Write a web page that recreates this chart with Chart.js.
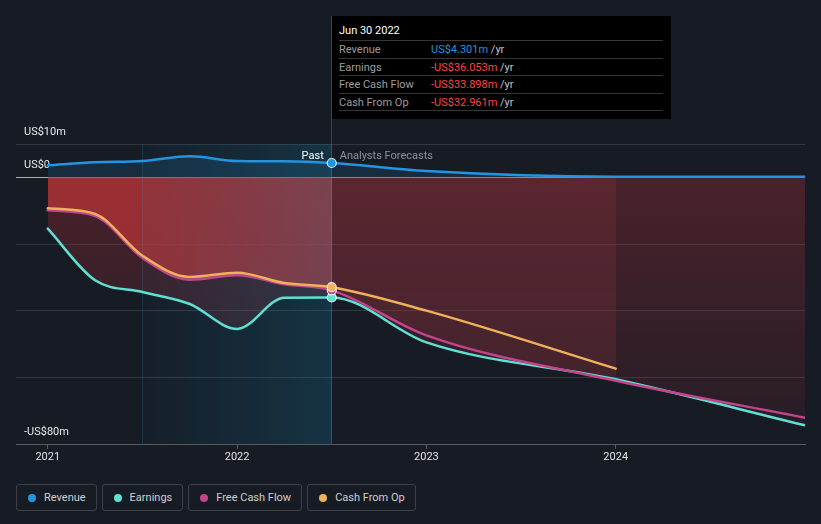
<!DOCTYPE html>
<html lang="en">
<head>
  <meta charset="UTF-8">
  <title>Revenue, Earnings and Cash Flow</title>
  <script src="https://cdn.jsdelivr.net/npm/chart.js"></script>
  <style>
    body { margin: 0; background: #161b24; font-family: Roboto, Arial, sans-serif; font-size: 11px; color: #d0d0d0; }
    #wrap { position: absolute; left: 0; top: 0; width: 821px; height: 470px; }
    .tip { position: absolute; left: 332px; top: 16px; width: 339px; height: 103px; background: #000; padding: 0 8px 0 7px; box-sizing: border-box; }
    .tip .title { color: #fff; height: 25px; line-height: 20px; padding-top: 5px; box-sizing: border-box; border-bottom: 1px solid #363636; }
    .tip .row { display: flex; height: 17.5px; line-height: 17px; box-sizing: border-box; border-bottom: 1px solid #363636; }
    .tip .lbl { width: 92px; color: #9c9c9c; }
    .tip .pos { color: #2394df; }
    .tip .neg { color: #ff4343; }
    .tip .unit { color: #c4c4c4; }
    .legend { position: absolute; left: 16px; top: 484px; display: flex; gap: 5px; }
    .legend .item { display: flex; align-items: center; height: 27px; box-sizing: border-box; border: 1px solid #3b4049; border-radius: 3px; padding: 0 10px 0 11px; color: #cfcfcf; }
    .legend .dot { width: 8px; height: 8px; border-radius: 50%; margin-right: 8px; }
  </style>
</head>
<body>

  <div id="wrap"><canvas id="chart"></canvas></div>
  <div class="tip" id="tip"></div>
  <div class="legend" id="legend"></div>

  <script>
    // data (US$ millions), past is quarterly, forecasts are yearly
    const pastYears = [2021, 2021.25, 2021.5, 2021.75, 2022, 2022.25, 2022.5];
    const forecastYears = [2023, 2024, 2025];
    const revenue = [3.6, 4.5, 4.9, 6.3, 4.9, 4.8, 4.301, 1.9, 0.2, 0.2];
    const earnings = [-15.4, -30.9, -34.4, -38.0, -45.5, -36.1, -36.053, -49.5, -60.6, -74.4];
    const freeCashFlow = [-9.9, -11.6, -24.2, -30.7, -29.4, -32.1, -33.898, -47.4, -61.0, -72.1];
    const cashFromOp = [-9.3, -11.0, -23.5, -29.9, -28.6, -31.7, -32.961, -40.0, -57.4];

    const seriesNames = ['Revenue', 'Earnings', 'Free Cash Flow', 'Cash From Op'];
    const seriesColors = ['#2394df', '#5fe0d2', '#c2448c', '#efb15b'];
    const yTickValues = [-80, -60, -40, -20, 0, 10];
    const yTickLabels = { '10': 'US$10m', '0': 'US$0', '-80': '-US$80m' };
    const xTickValues = [2021, 2022, 2023, 2024];
    const xMin = 2020.832, xMax = 2025;
    const highlightStart = 2021.5;
    const pastEnd = 2022.5;
    const tipTitle = 'Jun 30 2022';

    const allYears = pastYears.concat(forecastYears);
    const toPoints = vals => vals.map((v, i) => ({ x: allYears[i], y: v }));
    const seriesValues = [revenue, earnings, freeCashFlow, cashFromOp];

    function fmt(v) {
      return (v < 0 ? '-' : '') + 'US$' + Math.abs(v).toFixed(3) + 'm';
    }

    // tooltip box and legend from the same arrays
    const tip = document.getElementById('tip');
    const idx = pastYears.length - 1;
    tip.innerHTML = '<div class="title">' + tipTitle + '</div>' + seriesNames.map((n, i) => {
      const v = seriesValues[i][idx];
      return '<div class="row"><span class="lbl">' + n + '</span><span class="' + (v < 0 ? 'neg' : 'pos') + '">' +
        fmt(v) + '</span><span class="unit">&nbsp;/yr</span></div>';
    }).join('');
    document.getElementById('legend').innerHTML = seriesNames.map((n, i) =>
      '<div class="item"><span class="dot" style="background:' + seriesColors[i] + '"></span>' + n + '</div>').join('');

    // horizontal gradient helper with hard steps
    function stepGradient(chart, steps) {
      const a = chart.chartArea;
      const x = chart.scales.x;
      const g = chart.ctx.createLinearGradient(a.left, 0, a.right, 0);
      let prev = 0;
      steps.forEach(([year, color]) => {
        const f = year === null ? 1 : Math.min(1, Math.max(0, (x.getPixelForValue(year) - a.left) / (a.right - a.left)));
        g.addColorStop(prev, color);
        g.addColorStop(f, color);
        prev = Math.min(1, f + 0.0001);
      });
      return g;
    }

    const overlay = {
      id: 'overlay',
      beforeDatasetsDraw(chart) {
        const { ctx, chartArea: a, scales: { x } } = chart;
        const x0 = x.getPixelForValue(highlightStart);
        const x1 = x.getPixelForValue(pastEnd);
        ctx.save();
        const g = ctx.createLinearGradient(x0, 0, x1, 0);
        g.addColorStop(0, 'rgba(20,120,160,0.05)');
        g.addColorStop(1, 'rgba(20,130,170,0.24)');
        ctx.fillStyle = g;
        ctx.fillRect(x0, a.top, x1 - x0, a.bottom - a.top);
        ctx.fillStyle = 'rgba(60,140,170,0.22)';
        ctx.fillRect(Math.floor(x0), a.top, 1, a.bottom - a.top);
        ctx.fillStyle = 'rgba(120,150,170,0.35)';
        ctx.fillRect(Math.floor(x1), 16, 1, a.bottom - 16);
        ctx.restore();
      },
      afterDatasetsDraw(chart) {
        const { ctx, chartArea: a, scales: { x } } = chart;
        const px = x.getPixelForValue(pastEnd);
        ctx.save();
        ctx.font = '11px Roboto';
        ctx.textBaseline = 'middle';
        ctx.textAlign = 'right';
        ctx.fillStyle = '#ffffff';
        ctx.fillText('Past', px - 8, a.top + 12);
        ctx.textAlign = 'left';
        ctx.fillStyle = '#8d929a';
        ctx.fillText('Analysts Forecasts', px + 8, a.top + 12);
        ctx.restore();
      }
    };

    const markerRadius = ctx => (ctx.raw && ctx.raw.x === pastEnd ? 4.5 : 0);

    function lineSet(i, extra) {
      return Object.assign({
        label: seriesNames[i],
        data: toPoints(seriesValues[i]),
        borderColor: seriesColors[i],
        backgroundColor: seriesColors[i],
        pointBackgroundColor: seriesColors[i],
        pointBorderColor: 'rgba(255,255,255,0.85)',
        pointBorderWidth: 1.2,
        pointRadius: markerRadius,
        borderWidth: 2.5,
        borderCapStyle: 'round',
        cubicInterpolationMode: 'monotone',
        fill: false
      }, extra);
    }

    new Chart(document.getElementById('chart'), {
      type: 'line',
      data: {
        datasets: [
          lineSet(0, { order: 0, fill: 'origin', backgroundColor: 'rgba(35,148,223,0.15)' }),
          lineSet(1, {
            order: 3, fill: 'origin',
            backgroundColor(c) {
              const a = c.chart.chartArea;
              if (!a) return null;
              const g = c.chart.ctx.createLinearGradient(0, c.chart.scales.y.getPixelForValue(0), 0, a.bottom);
              g.addColorStop(0, 'rgba(150,45,55,0.40)');
              g.addColorStop(1, 'rgba(150,45,55,0.12)');
              return g;
            }
          }),
          lineSet(2, {
            order: 2, fill: 'origin',
            backgroundColor(c) {
              if (!c.chart.chartArea) return null;
              return stepGradient(c.chart, [
                [pastEnd, 'rgba(205,55,58,0.62)'],
                [forecastYears[1], 'rgba(170,60,70,0.18)'],
                [null, 'rgba(170,60,70,0.0)']
              ]);
            }
          }),
          lineSet(3, { order: 1 })
        ]
      },
      options: {
        responsive: true,
        maintainAspectRatio: false,
        animation: false,
        events: [],
        layout: { padding: { top: 144, right: 16, left: 0, bottom: 0 } },
        plugins: {
          legend: { display: false },
          tooltip: { enabled: false },
          filler: { drawTime: 'beforeDatasetsDraw' }
        },
        scales: {
          x: {
            type: 'linear',
            min: xMin,
            max: xMax,
            afterBuildTicks: s => { s.ticks = xTickValues.map(v => ({ value: v })); },
            afterFit: s => { s.height = 26; },
            grid: { drawOnChartArea: false, drawTicks: true, tickLength: 5, color: '#555b63' },
            border: { display: true, color: '#555b63' },
            ticks: { color: '#e4e4e4', padding: 2, font: { family: 'Roboto', size: 11 }, callback: v => String(v), maxRotation: 0 }
          },
          y: {
            min: -80,
            max: 10,
            afterBuildTicks: s => { s.ticks = yTickValues.map(v => ({ value: v })); },
            afterFit: s => { s.width = 16; },
            border: { display: false },
            grid: {
              drawTicks: false,
              color: c => (c.tick && c.tick.value === 0 ? 'rgba(225,225,225,0.75)' : 'rgba(255,255,255,0.12)')
            },
            ticks: {
              mirror: true,
              padding: 8,
              labelOffset: -12,
              color: '#e8e8e8',
              font: { family: 'Roboto', size: 11 },
              callback: v => yTickLabels[String(v)] || ''
            }
          }
        }
      },
      plugins: [overlay]
    });
  </script>
</body>
</html>
